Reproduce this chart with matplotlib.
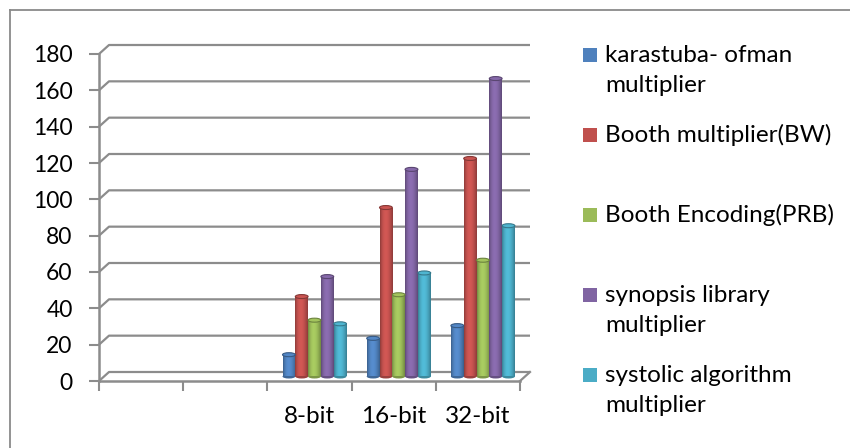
import numpy as np
import matplotlib
matplotlib.use("Agg")
import matplotlib.pyplot as plt
from matplotlib.patches import Rectangle, Ellipse
from matplotlib.lines import Line2D
from matplotlib.colors import to_rgb

plt.rcParams['font.family'] = ['Lato', 'DejaVu Sans']

# data
categories = ['', '', '8-bit', '16-bit', '32-bit']
series_names = ['karastuba- ofman\nmultiplier',
                'Booth multiplier(BW)',
                'Booth Encoding(PRB)',
                'synopsis library\nmultiplier',
                'systolic algorithm\nmultiplier']
karatsuba = [0, 0, 12, 21, 28]
booth_bw = [0, 0, 44, 93, 120]
booth_prb = [0, 0, 31, 45, 64]
synopsis = [0, 0, 55, 114, 164]
systolic = [0, 0, 29, 57, 83]
series = [karatsuba, booth_bw, booth_prb, synopsis, systolic]
colors = ['#4F81BD', '#C0504D', '#9BBB59', '#8064A2', '#4BACC6']
yticks = list(range(0, 181, 20))

W, H = 850, 448
fig = plt.figure(figsize=(W / 100, H / 100), dpi=100)
fig.patch.set_facecolor('white')

# front plane of the plot area (pixels -> figure fractions)
x0, x1, y_zero, y_top = 99, 520, 381, 54
ax = fig.add_axes([x0 / W, 1 - y_zero / H, (x1 - x0) / W, (y_zero - y_top) / H])
ax.set_xlim(-0.5, len(categories) - 0.5)
ax.set_ylim(0, 180)
ax.patch.set_alpha(0)

px_cat = (x1 - x0) / len(categories)
px_val = (y_zero - y_top) / 180.0
# 3-D depth offset of the back wall
dx = 10 / px_cat
dy = 9 / px_val

grid_c = '#8c8c8c'
xl, xr = -0.5, len(categories) - 0.5
for v in yticks:
    ax.plot([xl, xl + dx, xr + dx], [v, v + dy, v + dy], color=grid_c,
            lw=1.6, clip_on=False, zorder=1, solid_capstyle='butt')
# right edge of the floor
ax.plot([xr, xr + dx], [0, dy], color=grid_c, lw=1.6, clip_on=False, zorder=1)

for s in ['top', 'right']:
    ax.spines[s].set_visible(False)
for s in ['left', 'bottom']:
    ax.spines[s].set_color(grid_c)
    ax.spines[s].set_linewidth(1.8)

tick_fs = 16.5
ax.set_yticks(yticks)
ax.tick_params(axis='y', length=7, width=1.5, color=grid_c, pad=12,
               labelsize=tick_fs, labelcolor='black')
ax.set_xticks(range(len(categories)))
ax.set_xticklabels(categories)
ax.tick_params(axis='x', which='major', length=0, pad=18, labelsize=17.5)
ax.set_xticks(np.arange(-0.5, len(categories)), minor=True)
ax.tick_params(axis='x', which='minor', length=7, width=1.5, color=grid_c)

# cylinder bars, sitting at half depth
bw = 0.152
base = dy / 2
shift = dx / 2
t = np.linspace(0, 1, 64)
shade = 0.72 + 0.45 * np.sin(np.pi * t) ** 0.8 * (1 - 0.35 * t)
ell_h = 4.0 / px_val
for j, (vals, c) in enumerate(zip(series, colors)):
    rgb = np.array(to_rgb(c))
    grad = np.clip(shade[None, :, None] * rgb[None, None, :], 0, 1)
    xs = np.arange(len(categories)) + shift + (j - 2) * bw
    bars = ax.bar(xs, vals, width=bw, bottom=base, color=c, zorder=3,
                  linewidth=0)
    for b, x, v in zip(bars, xs, vals):
        if v <= 0:
            continue
        im = ax.imshow(grad, extent=[x - bw / 2, x + bw / 2, base, base + v],
                       aspect='auto', zorder=3.1, interpolation='bilinear')
        im.set_clip_path(b)
        ax.add_patch(Ellipse((x, base), bw, ell_h, facecolor=tuple(rgb * 0.8),
                             edgecolor='none', zorder=3.05))
        ax.add_patch(Ellipse((x, base + v), bw, ell_h,
                             facecolor=tuple(np.clip(rgb * 1.05, 0, 1)),
                             edgecolor=tuple(rgb * 0.7), lw=0.8, zorder=3.2))
ax.set_xlim(-0.5, len(categories) - 0.5)
ax.set_ylim(0, 180)

# legend
for i, (name, c) in enumerate(zip(series_names, colors)):
    yc = 55 + 80 * i
    fig.add_artist(Rectangle((583 / W, 1 - (yc + 7) / H), 14 / W, 14 / H,
                             transform=fig.transFigure, facecolor=c,
                             edgecolor='none'))
    for k, line in enumerate(name.split('\n')):
        fig.text(605 / W, 1 - (yc + 30 * k) / H, line, fontsize=17.5,
                 va='center', ha='left')

# chart border
frame_c = '#8a8a8a'
fig.add_artist(Line2D([10 / W, 10 / W], [0, 1 - 10 / H], color=frame_c, lw=1.3,
                      transform=fig.transFigure))
fig.add_artist(Line2D([10 / W, 1], [1 - 10 / H, 1 - 10 / H], color=frame_c,
                      lw=1.3, transform=fig.transFigure))

fig.savefig('out.png', dpi=100)
